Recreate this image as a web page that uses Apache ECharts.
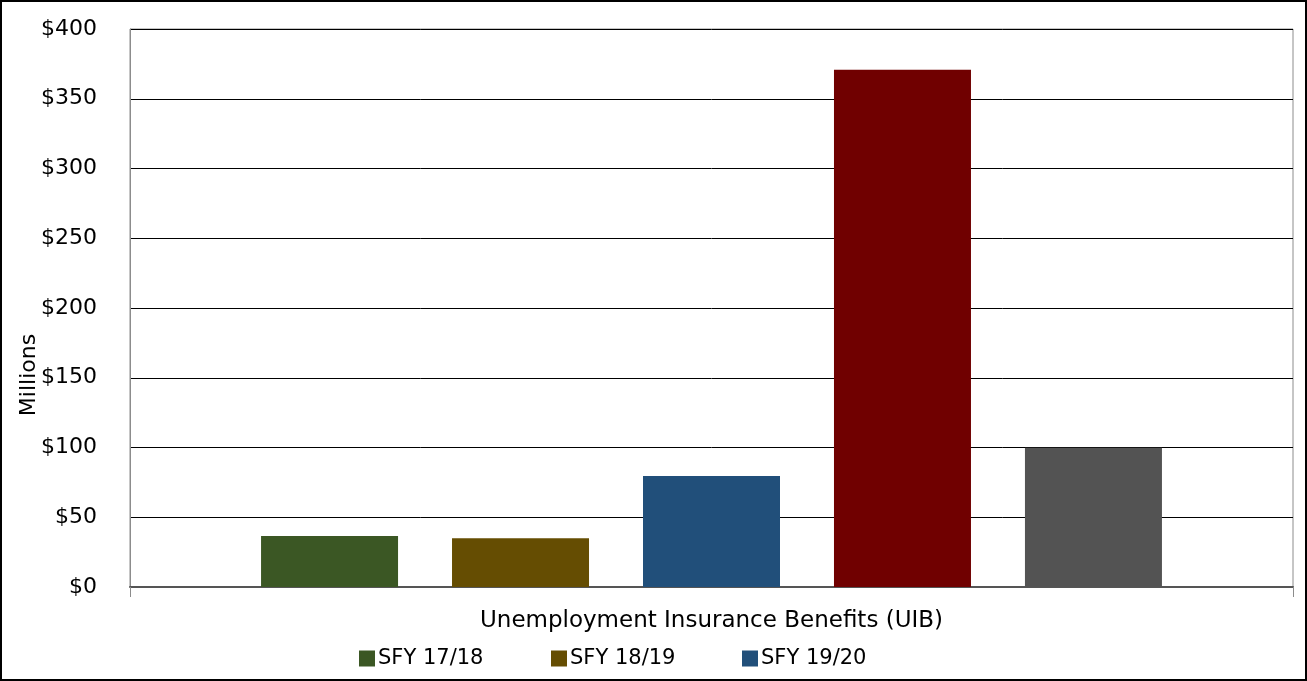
<!DOCTYPE html>
<html>
<head>
<meta charset="utf-8">
<script src="https://cdn.jsdelivr.net/npm/echarts@6/dist/echarts.min.js"></script>
<style>
html,body{margin:0;padding:0;background:#fff;}
#chart{width:1307px;height:681px;}
</style>
</head>
<body>
<div id="chart"></div>
<script>
const categories = ['Unemployment Insurance Benefits (UIB)'];
const seriesNames = ['SFY 17/18', 'SFY 18/19', 'SFY 19/20', 'SFY 20/21', 'SFY 21/22'];
const seriesValues = [36.5, 35.0, 79.5, 370.7, 99.8];
const seriesColors = ['#3B5724', '#654D02', '#214F7A', '#700000', '#535353'];
const legendNames = ['SFY 17/18', 'SFY 18/19', 'SFY 19/20'];
const yTicks = { min: 0, max: 400, interval: 50 };

const FONT = "'Century Gothic','DejaVu Sans',sans-serif";
const chart = echarts.init(document.getElementById('chart'), null, { renderer: 'canvas' });

const series = seriesNames.map((n, i) => ({
  name: n,
  type: 'bar',
  data: [seriesValues[i]],
  barWidth: 137,
  barGap: '39.4%',
  itemStyle: { color: seriesColors[i] }
}));

const legendLefts = [354, 546, 737];
const legends = legendNames.map((n, i) => ({
  data: [n],
  left: legendLefts[i],
  top: 643,
  itemWidth: 16,
  itemHeight: 16,
  icon: 'rect',
  textStyle: { fontFamily: FONT, fontSize: 21, color: '#000', padding: [0, 0, 0, -2] }
}));

chart.setOption({
  animation: false,
  grid: { left: 130, right: 14, top: 29, bottom: 94, show: true, borderColor: '#8c8c8c', borderWidth: 1 },
  legend: legends,
  xAxis: {
    type: 'category',
    data: categories,
    axisLine: { lineStyle: { color: '#555', width: 2 } },
    axisTick: { show: true, length: 10, lineStyle: { color: '#8c8c8c' } },
    axisLabel: { fontFamily: FONT, fontSize: 23, color: '#000', margin: 23 }
  },
  yAxis: {
    type: 'value',
    min: yTicks.min,
    max: yTicks.max,
    interval: yTicks.interval,
    axisLine: { show: true, lineStyle: { color: '#8c8c8c' } },
    axisTick: { show: false },
    splitLine: { lineStyle: { color: '#000', width: 1 } },
    axisLabel: { fontFamily: FONT, fontSize: 22, color: '#000', margin: 33, formatter: v => '$' + v }
  },
  graphic: [
    { type: 'rect', shape: { x: 1, y: 1, width: 1305, height: 679 }, style: { fill: 'none', stroke: '#000', lineWidth: 2 }, silent: true },
    { type: 'text', x: 29, y: 375, rotation: Math.PI / 2, style: { text: 'Millions', fontFamily: FONT, fontSize: 22, fill: '#000', textAlign: 'center', textVerticalAlign: 'middle' } }
  ],
  series: series
});
</script>
</body>
</html>
